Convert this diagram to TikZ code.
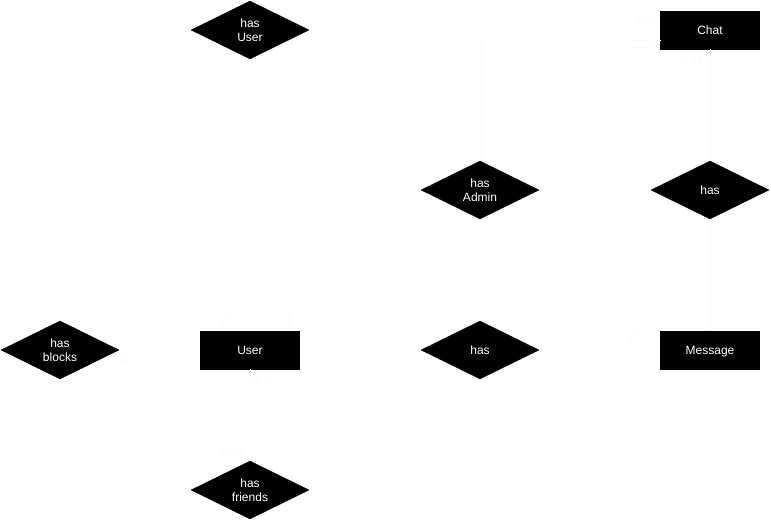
\documentclass[tikz,border=0pt]{standalone}
\usepackage{fontspec}
\setmainfont{Liberation Sans}
\usetikzlibrary{shapes.geometric}
\begin{document}
\begin{tikzpicture}[x=1pt,y=-1pt,
  entity/.style={draw=black,fill=black,text=white,minimum width=99pt,minimum height=38pt,inner sep=0pt,text height=9pt,text depth=0.5pt,font=\fontsize{12}{14}\selectfont},
  relation/.style={diamond,draw=black,fill=black,text=white,minimum width=118pt,minimum height=58pt,inner sep=0pt,aspect=2,align=center,font=\fontsize{12}{14}\selectfont},
  faint/.style={draw=white!98.5!black,line width=0.6pt},
  card/.style={text=white!97.5!black,font=\fontsize{10}{12}\selectfont,inner sep=1pt}]
\useasboundingbox (0,0) rectangle (771,521);
% relationships
\node[relation] (hasUser) at (250,30) {has\\User};
\node[relation] (hasAdmin) at (480,190) {has\\Admin};
\node[relation] (hasCM) at (710,190) {has};
\node[relation] (hasUM) at (480,350) {has};
\node[relation] (hasBlocks) at (60,350) {has\\blocks};
\node[relation] (hasFriends) at (250,490) {has\\friends};
% entities
\node[entity] (chat) at (710,30) {Chat};
\node[entity] (user) at (250,350) {User};
\node[entity] (msg) at (710,350) {Message};
% faint connectors
\coordinate (c2) at (661,40);
\draw[faint] (hasUser.east) -- (hasUser.east -| chat.west);
\draw[faint] (c2) -| (hasAdmin.north);
\draw[faint] (hasUser.south) -- (user.north);
\draw[faint] (hasAdmin.west) -| ([xshift=40pt]user.north);
\draw[faint] (chat.south) -- (hasCM.north);
\draw[faint] (hasCM.south) -- (msg.north);
\draw[faint] (user.east) -- (hasUM.west);
\draw[faint] (hasUM.east) -- (msg.west);
\draw[faint] (hasBlocks.east) -- (user.west);
\draw[faint] (user.south) -- (hasFriends.north);
% faint cardinalities
\node[card] (l1) at (645,22) {(0,n)};
\node[card] (l2) at (645,50) {(0,n)};
\node[card] (l3) at (690,62) {(0,1)};
\node[card] (l4) at (640,338) {(0,n)};
\node[card] (l5) at (232,322) {(0,n)};
\node[card] (l6) at (295,322) {(0,1)};
\node[card] (l7) at (130,362) {(0,n)};
\node[card] (l8) at (187,338) {(0,n)};
\node[card] (l9) at (262,382) {(0,n)};
\node[card] (l10) at (232,452) {(0,n)};
\end{tikzpicture}
\end{document}
